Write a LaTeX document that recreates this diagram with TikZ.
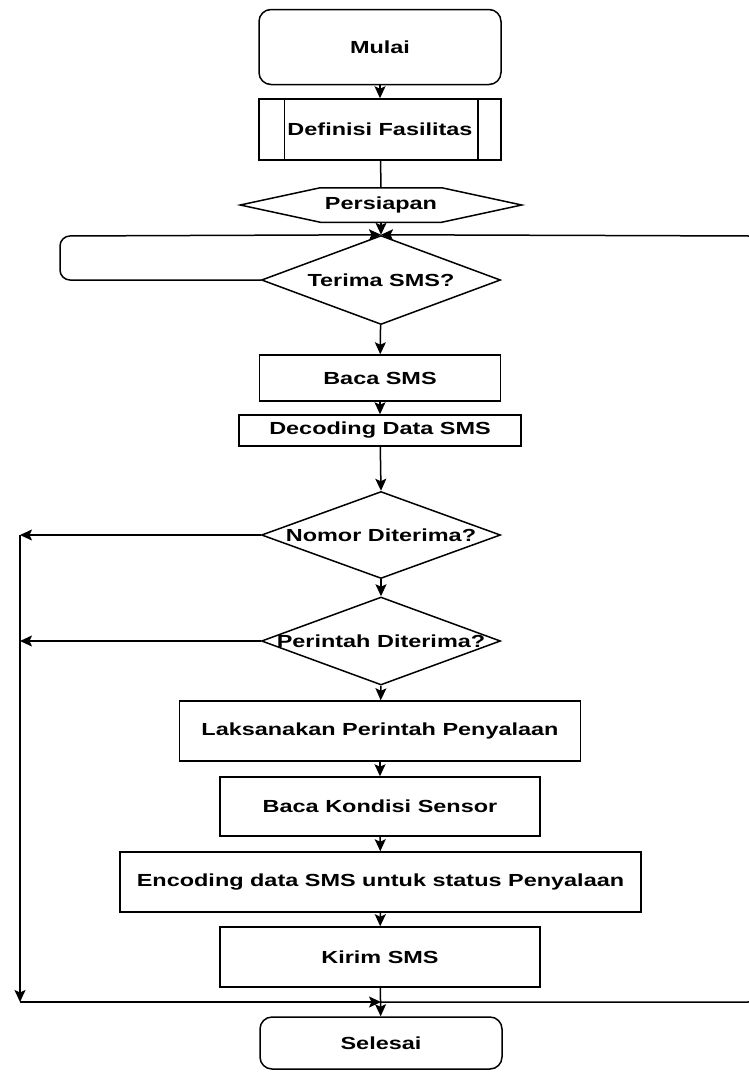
\documentclass[tikz,border=0pt]{standalone}
\usepackage{fontspec}
\usepackage{tikz}
\usetikzlibrary{arrows.meta,shapes.geometric}
\newfontfamily\hurufBagan{Liberation Sans}[FakeStretch=1.34]
\tikzset{
Panah/.style={
 draw=black, 
 -{Stealth[length=12pt,width=11pt,inset=2.5pt]}
 },
Garis/.style={
 draw=black
 },
KotakAwal/.style={
 draw=black, 
 rounded corners=12pt, 
 minimum width=242pt, 
 inner sep=0pt
 },
KotakProses/.style={
 draw=black, 
 rectangle, 
 inner sep=0pt
 },
Keputusan/.style={
 draw=black, 
 diamond, 
 minimum width=239pt, 
 inner sep=0pt
 }
}
\begin{document}
\begin{tikzpicture}[x=1pt,y=-1pt,line width=1.5pt,font=\hurufBagan\bfseries\fontsize{17.5}{21}\selectfont]
\useasboundingbox (0,0) rectangle (749,1072);
\node[KotakAwal,minimum height=75pt] (mulai) at (380,47) {Mulai};
\node[KotakProses,minimum width=242pt,minimum height=61pt] (definisi) at (380,129.5) {Definisi Fasilitas};
\draw[Garis] ([xshift=26pt]definisi.north west) -- ([xshift=26pt]definisi.south west);
\draw[Garis] ([xshift=-24pt]definisi.north east) -- ([xshift=-24pt]definisi.south east);
\node[minimum width=120pt,minimum height=33pt,inner sep=0pt] (persiapan) at (381,205) {Persiapan};
\draw[Garis] ([xshift=-80pt]persiapan.west) -- (persiapan.north west) -- (persiapan.north east)
 -- ([xshift=80pt]persiapan.east) -- (persiapan.south east) -- (persiapan.south west) -- cycle;
\node[Keputusan,minimum height=89pt] (terima) at (381,280) {};
\node (terimaTeks) at (terima) {Terima SMS?};
\node[KotakProses,minimum width=241pt,minimum height=46pt] (baca) at (380,378) {Baca SMS};
\node[KotakProses,minimum width=282pt,minimum height=31pt] (decoding) at (380,430.5) {Decoding Data SMS};
\node[Keputusan,minimum height=87pt] (nomor) at (381,535) {};
\node (nomorTeks) at (nomor) {Nomor Diterima?};
\node[Keputusan,minimum height=88pt] (perintah) at (381,641) {};
\node (perintahTeks) at (perintah) {Perintah Diterima?};
\node[KotakProses,minimum width=401pt,minimum height=60pt] (laksanakan) at (380,731) {Laksanakan Perintah Penyalaan};
\node[KotakProses,minimum width=320pt,minimum height=59pt] (kondisi) at (380,806.5) {Baca Kondisi Sensor};
\node[KotakProses,minimum width=521pt,minimum height=60pt] (encoding) at (380.5,882) {Encoding data SMS untuk status Penyalaan};
\node[KotakProses,minimum width=320pt,minimum height=60pt] (kirim) at (380,957) {Kirim SMS};
\node[KotakAwal,minimum height=52pt] (selesai) at (381,1043) {Selesai};
\coordinate (kiriAtas) at (60,236);
\coordinate (kananAtas) at (758,236);
\coordinate (kiriNomor) at (20,535);
\coordinate (kiriPerintah) at (20,641);
\coordinate (kiriBawah) at (20,1002);
\coordinate (tengahBawah) at (381,1002);
\coordinate (kananBawah) at (758,1002);
\draw[Panah] (mulai) -- (definisi);
\draw[Garis] (definisi) -- (persiapan.north);
\draw[Panah] (persiapan.south) -- (terima.north);
\draw[Panah,rounded corners=10pt] (terima.west) -| (kiriAtas) -- (terima.north);
\draw[Panah,rounded corners=10pt] (tengahBawah) -- (kananBawah) -- (kananAtas) -- (terima.north);
\draw[Panah] (terima) -- (baca);
\draw[Panah] (baca) -- (decoding);
\draw[Panah] (decoding) -- (nomor.north);
\draw[Panah] (nomor.south) -- (perintah.north);
\draw[Panah] (perintah.south) -- (laksanakan);
\draw[Panah] (laksanakan) -- (kondisi);
\draw[Panah] (kondisi) -- (encoding);
\draw[Panah] (encoding) -- (kirim);
\draw[Panah] (kirim) -- (selesai);
\draw[Panah] (nomor.west) -- (kiriNomor);
\draw[Panah] (perintah.west) -- (kiriPerintah);
\draw[Panah] (kiriNomor) -- (kiriBawah);
\draw[Panah] (kiriBawah) -- (tengahBawah);
\end{tikzpicture}
\end{document}
